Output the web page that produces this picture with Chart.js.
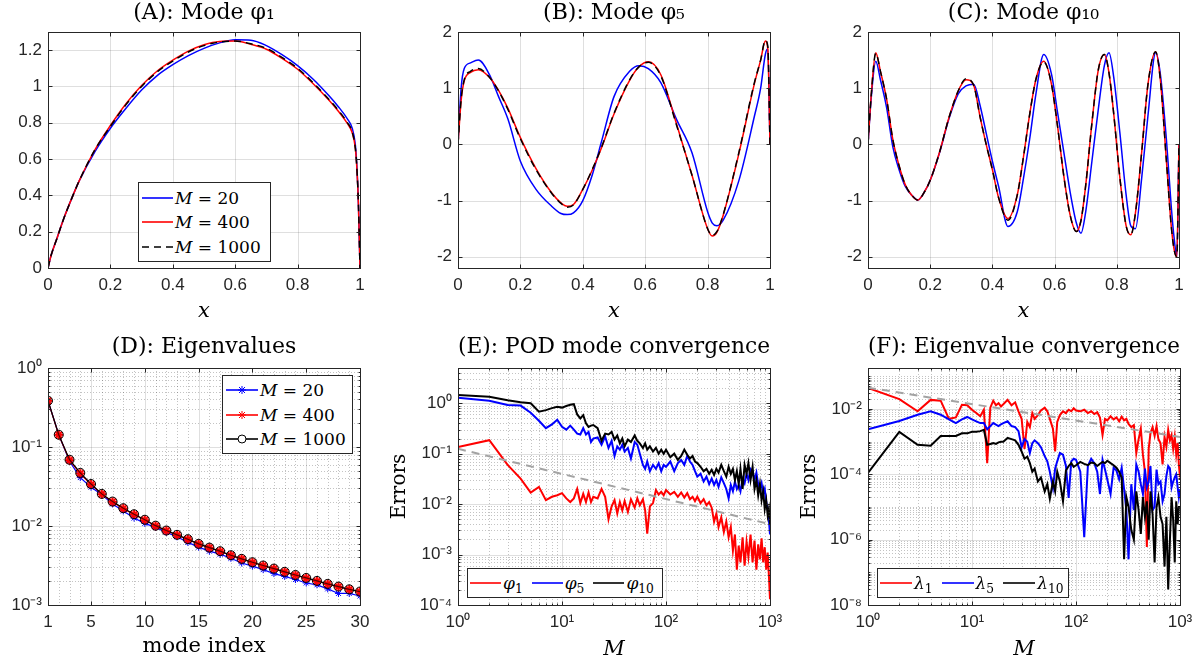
<!DOCTYPE html>
<html>
<head>
<meta charset="utf-8">
<title>POD modes and convergence</title>
<script src="https://cdn.jsdelivr.net/npm/chart.js@4.4.1/dist/chart.umd.min.js"></script>
<style>
  html, body { margin: 0; padding: 0; background: #fff; }
  #fig { position: relative; width: 1203px; height: 663px; overflow: hidden; }
  #fig canvas { position: absolute; }
  .legend { position: absolute; box-sizing: border-box; background: #fff; border: 1px solid #262626;
            font-family: 'DejaVu Serif', serif; font-size: 17px; color: #000; display: flex; }
  .legend.col { flex-direction: column; justify-content: space-evenly; padding-left: 3px; }
  .legend.row { flex-direction: row; align-items: center; padding-left: 2px; gap: 9px; }
  .legend .item { display: flex; align-items: center; white-space: nowrap; gap: 2px; }
  .legend svg { flex: none; }
  .legend sub { font-size: 0.72em; vertical-align: -0.3em; line-height: 0; }
</style>
</head>
<body>
<div id="fig">
  <canvas id="cA" width="390" height="330" style="left:0;top:0"></canvas>
  <canvas id="cB" width="410" height="330" style="left:380px;top:0"></canvas>
  <canvas id="cC" width="413" height="330" style="left:790px;top:0"></canvas>
  <canvas id="cD" width="390" height="333" style="left:0;top:330px"></canvas>
  <canvas id="cE" width="410" height="333" style="left:380px;top:330px"></canvas>
  <canvas id="cF" width="413" height="333" style="left:790px;top:330px"></canvas>
</div>
<script>
// ---- (A) mode phi_1 ----
var xA = [0, 0.01, 0.03, 0.05, 0.08, 0.1, 0.15, 0.2, 0.25, 0.3, 0.35, 0.4, 0.45, 0.5, 0.55, 0.6, 0.65, 0.7, 0.75, 0.8, 0.85, 0.9, 0.93, 0.96, 0.975, 0.985, 0.99, 0.995, 1.0];
var yA20 = [0, 0.07, 0.17, 0.27, 0.40, 0.48, 0.64, 0.77, 0.88, 0.98, 1.06, 1.12, 1.17, 1.21, 1.24, 1.257, 1.255, 1.225, 1.175, 1.115, 1.04, 0.95, 0.89, 0.82, 0.77, 0.68, 0.56, 0.35, 0];
var yA400 = [0, 0.07, 0.17, 0.27, 0.40, 0.48, 0.65, 0.785, 0.905, 1.005, 1.085, 1.145, 1.195, 1.23, 1.248, 1.25, 1.232, 1.205, 1.155, 1.095, 1.015, 0.925, 0.865, 0.795, 0.745, 0.66, 0.55, 0.35, 0];
var yA1000 = [0, 0.07, 0.17, 0.27, 0.40, 0.48, 0.65, 0.78, 0.90, 1.00, 1.08, 1.14, 1.19, 1.225, 1.245, 1.25, 1.235, 1.21, 1.16, 1.10, 1.02, 0.93, 0.87, 0.80, 0.75, 0.66, 0.55, 0.35, 0];

// ---- (B) mode phi_5 ----
var xB = [0, 0.01, 0.02, 0.04, 0.065, 0.1, 0.13, 0.16, 0.2, 0.25, 0.3, 0.33, 0.35, 0.37, 0.4, 0.43, 0.46, 0.5, 0.55, 0.58, 0.61, 0.65, 0.7, 0.75, 0.8, 0.815, 0.83, 0.85, 0.9, 0.95, 0.97, 0.985, 0.993, 1.0];
var yB20 = [0, 1.0, 1.35, 1.45, 1.5, 1.25, 0.85, 0.45, -0.3, -0.8, -1.1, -1.23, -1.25, -1.22, -1.0, -0.55, 0.05, 0.85, 1.3, 1.4, 1.35, 1.1, 0.45, -0.15, -1.2, -1.4, -1.45, -1.35, -0.65, 0.5, 1.0, 1.6, 1.7, 0];
var yB400 = [0, 0.78, 1.13, 1.28, 1.33, 1.2, 0.96, 0.64, 0.12, -0.43, -0.86, -1.04, -1.1, -1.07, -0.8, -0.46, -0.06, 0.54, 1.14, 1.38, 1.47, 1.24, 0.37, -0.55, -1.5, -1.63, -1.56, -1.26, -0.17, 1.08, 1.5, 1.84, 1.7, 0];
var yB1000 = [0, 0.8, 1.15, 1.3, 1.35, 1.2, 0.95, 0.62, 0.1, -0.45, -0.87, -1.05, -1.12, -1.08, -0.8, -0.45, -0.05, 0.55, 1.15, 1.38, 1.46, 1.22, 0.35, -0.55, -1.5, -1.62, -1.55, -1.25, -0.15, 1.1, 1.5, 1.85, 1.75, 0];

// ---- (C) mode phi_10 ----
var xC = [0, 0.01, 0.025, 0.04, 0.06, 0.08, 0.1, 0.12, 0.14, 0.16, 0.18, 0.2, 0.23, 0.26, 0.29, 0.315, 0.34, 0.36, 0.38, 0.4, 0.42, 0.45, 0.48, 0.5, 0.52, 0.54, 0.565, 0.59, 0.61, 0.63, 0.65, 0.67, 0.685, 0.7, 0.72, 0.74, 0.76, 0.775, 0.79, 0.81, 0.83, 0.845, 0.86, 0.88, 0.9, 0.925, 0.94, 0.96, 0.975, 0.985, 0.993, 1.0];
var yC20 = [0, 0.8, 1.48, 1.15, 0.65, -0.05, -0.45, -0.75, -0.9, -0.99, -0.86, -0.64, -0.15, 0.45, 0.9, 1.04, 1.07, 0.7, 0.2, -0.3, -0.75, -1.46, -1.2, -0.6, 0.1, 0.9, 1.6, 1.25, 0.55, -0.15, -0.85, -1.4, -1.58, -1.2, -0.3, 0.6, 1.4, 1.63, 1.2, 0.2, -0.9, -1.45, -1.5, -0.6, 0.5, 1.63, 1.25, 0.05, -1.1, -1.7, -2.0, 0];
var yC400 = [0, 0.85, 1.63, 1.3, 0.8, 0.08, -0.38, -0.72, -0.9, -0.99, -0.86, -0.64, -0.14, 0.47, 0.95, 1.15, 1.05, 0.5, 0, -0.45, -0.95, -1.32, -0.9, -0.22, 0.54, 1.16, 1.48, 1.07, 0.3, -0.58, -1.26, -1.55, -1.35, -0.73, 0.38, 1.31, 1.6, 1.27, 0.55, -0.6, -1.45, -1.61, -1.22, -0.14, 1.06, 1.65, 1.15, -0.33, -1.45, -1.89, -2.0, 0];
var yC1000 = [0, 0.85, 1.62, 1.3, 0.8, 0.08, -0.38, -0.72, -0.9, -0.99, -0.86, -0.64, -0.14, 0.47, 0.95, 1.17, 1.05, 0.5, 0, -0.45, -0.95, -1.35, -0.9, -0.22, 0.54, 1.16, 1.47, 1.07, 0.3, -0.58, -1.26, -1.55, -1.35, -0.73, 0.38, 1.31, 1.6, 1.27, 0.55, -0.6, -1.45, -1.61, -1.22, -0.14, 1.06, 1.65, 1.15, -0.33, -1.45, -1.89, -2.0, 0];

// ---- (D) eigenvalues ----
var modeIndex = [1, 2, 3, 4, 5, 6, 7, 8, 9, 10, 11, 12, 13, 14, 15, 16, 17, 18, 19, 20, 21, 22, 23, 24, 25, 26, 27, 28, 29, 30];
var eig20 = [0.385, 0.143, 0.066, 0.041, 0.031, 0.025, 0.019, 0.0155, 0.0126, 0.0108, 0.0096, 0.0083, 0.0073, 0.0062, 0.0054, 0.0048, 0.0044, 0.0039, 0.0034, 0.0031, 0.0028, 0.0025, 0.0023, 0.0021, 0.0019, 0.0018, 0.0016, 0.0014, 0.0014, 0.0013];
var eig400 = [0.384, 0.142, 0.068, 0.046, 0.0335, 0.0253, 0.0202, 0.0166, 0.014, 0.0119, 0.01, 0.0087, 0.00767, 0.00676, 0.0059, 0.0053, 0.00476, 0.00424, 0.00381, 0.00345, 0.00314, 0.00287, 0.00261, 0.00238, 0.00218, 0.002, 0.00184, 0.0017, 0.00157, 0.00147];
var eig1000 = [0.385, 0.143, 0.069, 0.047, 0.034, 0.0255, 0.0204, 0.0168, 0.0141, 0.012, 0.0101, 0.00877, 0.00773, 0.00681, 0.00594, 0.00533, 0.0048, 0.00427, 0.00384, 0.00348, 0.00316, 0.00289, 0.00263, 0.0024, 0.0022, 0.00202, 0.00185, 0.00171, 0.00158, 0.00148];

// ---- (E), (F) convergence in M ----
var mValues = [1, 2, 3, 4, 5, 6, 7, 8, 9, 10, 11, 12, 13, 14, 15, 16, 17, 18, 19, 20,
  22, 24, 26, 28, 30, 32, 34, 36, 38, 40, 43, 46, 50, 53, 56, 60, 63, 66, 70, 75,
  80, 85, 90, 95, 100, 110, 120, 130, 140, 150, 160, 170, 180, 190, 200,
  215, 230, 245, 260, 275, 290, 305, 320, 340, 360, 380, 400, 420, 440, 460,
  480, 500, 520, 545, 570, 595, 620, 650, 680, 710, 740, 770, 800, 830, 860,
  890, 920, 950, 975, 1000];
var errPhi1 = [0.135, 0.185, 0.06, 0.032, 0.017, 0.022, 0.012, 0.014, 0.015, 0.0165,
  0.013, 0.011, 0.013, 0.02, 0.0105, 0.016, 0.011, 0.017, 0.011, 0.014,
  0.013, 0.02, 0.014, 0.005, 0.009, 0.012, 0.0065, 0.011, 0.0075, 0.0115,
  0.007, 0.0125, 0.0085, 0.013, 0.0095, 0.0125, 0.0075, 0.0026, 0.009, 0.0105,
  0.019, 0.0155, 0.0175, 0.015, 0.019, 0.0155, 0.0175, 0.014, 0.017, 0.0135,
  0.0165, 0.0125, 0.014, 0.0115, 0.014, 0.0105, 0.0125, 0.0095, 0.011, 0.0085,
  0.0045, 0.0065, 0.0035, 0.0055, 0.0028, 0.0045, 0.0022, 0.0035, 0.0012, 0.0025,
  0.0005, 0.0015, 0.0007, 0.0022, 0.0006, 0.0018, 0.0009, 0.0025, 0.0007, 0.0019,
  0.0005, 0.0016, 0.0008, 0.0021, 0.0007, 0.0014, 0.0005, 0.0011, 0.0004, 0.00013];
var errPhi5 = [1.28, 1.12, 0.92, 0.9, 0.65, 0.45, 0.32, 0.38, 0.47, 0.34,
  0.3, 0.36, 0.3, 0.25, 0.24, 0.32, 0.24, 0.27, 0.17, 0.2,
  0.21, 0.15, 0.22, 0.13, 0.18, 0.09, 0.14, 0.12, 0.15, 0.11,
  0.13, 0.08, 0.17, 0.15, 0.1, 0.06, 0.05, 0.07, 0.045, 0.06,
  0.05, 0.065, 0.045, 0.06, 0.055, 0.07, 0.045, 0.065, 0.075, 0.06,
  0.09, 0.07, 0.06, 0.045, 0.035, 0.04, 0.028, 0.035, 0.025, 0.032,
  0.024, 0.03, 0.022, 0.034, 0.026, 0.02, 0.013, 0.024, 0.018, 0.028,
  0.02, 0.024, 0.018, 0.032, 0.026, 0.04, 0.03, 0.05, 0.045, 0.03,
  0.042, 0.025, 0.02, 0.026, 0.016, 0.02, 0.011, 0.008, 0.005, 0.0025];
var errPhi10 = [1.45, 1.35, 1.15, 1.05, 1.0, 0.68, 0.73, 0.8, 0.85, 0.82,
  0.88, 0.93, 0.96, 0.6, 0.5, 0.58, 0.4, 0.34, 0.36, 0.37,
  0.32, 0.18, 0.25, 0.24, 0.27, 0.19, 0.23, 0.16, 0.2, 0.14,
  0.19, 0.17, 0.23, 0.18, 0.16, 0.13, 0.16, 0.12, 0.14, 0.11,
  0.13, 0.1, 0.12, 0.1, 0.12, 0.085, 0.1, 0.075, 0.09, 0.12,
  0.095, 0.08, 0.09, 0.07, 0.065, 0.055, 0.045, 0.05, 0.04, 0.048,
  0.038, 0.05, 0.042, 0.06, 0.045, 0.035, 0.055, 0.04, 0.05, 0.03,
  0.045, 0.025, 0.05, 0.02, 0.06, 0.04, 0.065, 0.03, 0.055, 0.02,
  0.03, 0.015, 0.025, 0.012, 0.018, 0.008, 0.012, 0.006, 0.008, 0.004];
var errLam1 = [0.044, 0.02, 0.0085, 0.019, 0.018, 0.005, 0.0055, 0.0135, 0.013, 0.0095,
  0.0075, 0.006, 0.0095, 0.00022, 0.011, 0.018, 0.013, 0.015, 0.012, 0.014,
  0.019, 0.013, 0.016, 0.0085, 0.005, 0.0006, 0.004, 0.0028, 0.0075, 0.005,
  0.0065, 0.009, 0.011, 0.0085, 0.005, 0.0025, 0.0005, 0.004, 0.0065, 0.0085,
  0.0075, 0.0095, 0.0085, 0.0105, 0.009, 0.0085, 0.0095, 0.0075, 0.0085, 0.007,
  0.008, 0.0055, 0.0016, 0.005, 0.0045, 0.006, 0.0048, 0.0055, 0.0042, 0.0058,
  0.0045, 0.005, 0.0035, 0.0028, 0.0032, 0.00045, 0.0012, 0.0025, 0.0004, 0.00012,
  6e-7, 0.0006, 0.0018, 0.0028, 0.0015, 0.003, 0.0012, 0.0009, 0.0002, 0.0014,
  0.0007, 0.0023, 0.0011, 0.0016, 0.0006, 0.0014, 0.0004, 0.0009, 0.0002, 0.00008];
var errLam5 = [0.0024, 0.0043, 0.0067, 0.0085, 0.0067, 0.0048, 0.0037, 0.0048, 0.0057, 0.0048,
  0.0042, 0.0037, 0.0037, 0.0024, 0.003, 0.0037, 0.0033, 0.003, 0.0034, 0.0037,
  0.0042, 0.003, 0.0028, 0.0021, 0.00068, 0.0012, 0.001, 0.00045, 0.0009, 0.0011,
  0.0009, 0.00068, 0.00036, 0.00025, 0.00012, 3.8e-5, 0.00015, 0.00025, 0.00045, 0.0004,
  0.00018, 1.9e-5, 0.00025, 0.0003, 0.00028, 0.00012, 1.2e-6, 0.00018, 0.0003, 0.00022,
  0.00012, 2.5e-5, 0.00028, 0.00014, 7e-5, 2.5e-5, 0.00016, 0.00013, 7e-5, 0.00016,
  3.5e-5, 8e-6, 2.5e-7, 5e-5, 8e-6, 0.0002, 0.00012, 5e-5, 2.5e-5, 0.00015,
  4e-5, 6e-5, 0.00018, 8e-6, 1e-5, 0.00014, 5e-5, 6e-5, 1.5e-5, 2.5e-5,
  9e-5, 0.00018, 0.00015, 4e-5, 6e-5, 8e-5, 0.0001, 4e-5, 2e-5, 3.5e-5];
var errLam10 = [1.1e-4, 0.002, 0.0008, 0.00075, 0.0015, 0.0015, 0.0015, 0.0018, 0.0018, 0.002,
  0.002, 0.0021, 0.0023, 0.0008, 0.00085, 0.0009, 0.00085, 0.00095, 0.001, 0.001,
  0.0013, 0.0012, 0.0011, 0.0008, 0.0005, 0.0003, 0.00035, 0.00022, 0.00012, 0.00015,
  6e-5, 8e-5, 3e-5, 5e-5, 1.8e-5, 6e-5, 3e-5, 0.00012, 6e-5, 1.5e-5,
  0.00013, 0.00018, 0.00022, 0.00017, 0.00019, 0.00024, 0.00021, 0.00019, 0.00023, 0.00022,
  0.00018, 0.00021, 0.00024, 0.00022, 0.00026, 0.00022, 0.00019, 0.00016, 0.00012, 8e-5,
  2.5e-7, 2e-5, 1e-5, 2e-6, 1e-6, 3e-5, 8e-6, 1.5e-6, 2e-5, 5e-6,
  1.5e-5, 1e-6, 3e-5, 6e-6, 2e-7, 1e-5, 2e-5, 5e-6, 3e-6, 1.5e-7,
  5e-6, 3e-8, 1e-6, 2e-5, 4e-6, 2e-7, 1.5e-5, 3e-6, 1e-5, 1e-5];
// reference slopes (dashed grey), end points only
var refM = [1, 1000];
var refModes = [0.125, 0.004];
var refEigs = [0.045, 0.0014];

// tick labels
var ticksUnit = [0, 0.2, 0.4, 0.6, 0.8, 1];
var ticksA = [0, 0.2, 0.4, 0.6, 0.8, 1, 1.2];
var ticksMode = [-2, -1, 0, 1, 2];
var ticksIndex = [1, 5, 10, 15, 20, 25, 30];
var ticksEig = [1e-3, 1e-2, 1e-1, 1];
var ticksM = [1, 10, 100, 1000];
var ticksErrE = [1e-4, 1e-3, 1e-2, 1e-1, 1];
var ticksErrF = [1e-8, 1e-6, 1e-4, 1e-2];

var SERIF = "'DejaVu Serif', serif";
var SANS = "'Liberation Sans', Arial, sans-serif";
var INK = '#262626';
var BLUE = '#0000ff', RED = '#ff0000', BLACK = '#000000', GREY = '#a3a3a3';

var SUP = {'0': '\u2070', '1': '\u00b9', '2': '\u00b2', '3': '\u00b3', '4': '\u2074', '5': '\u2075',
  '6': '\u2076', '7': '\u2077', '8': '\u2078', '9': '\u2079', '-': '\u207b'};
function powLabel(v) {
  var e = String(Math.round(Math.log10(v)));
  return '10' + e.split('').map(function (c) { return SUP[c]; }).join('');
}
function plainLabel(v) { return String(Math.round(v * 10) / 10); }

// grid, box and inward ticks like MATLAB axes
function minorValues(s, mode) {
  var out = [];
  var major = s.ticks.map(function (t) { return t.value; });
  var isMajor = function (v) { return major.some(function (m) { return Math.abs(m - v) <= Math.abs(v) * 1e-6; }); };
  if (mode === 'log') {
    var lo = Math.floor(Math.log10(s.min)), hi = Math.ceil(Math.log10(s.max));
    for (var e = lo; e <= hi; e++) {
      for (var k = 1; k < 10; k++) {
        var v = k * Math.pow(10, e);
        if (v > s.min * 1.0001 && v < s.max * 0.9999 && !isMajor(v)) out.push(v);
      }
    }
  } else if (mode === 'int') {
    for (var i = Math.ceil(s.min); i <= s.max; i++) if (!isMajor(i)) out.push(i);
  }
  return out;
}
function vline(ctx, px, a, y0, y1) {
  var x = Math.round(px) + 0.5;
  ctx.beginPath(); ctx.moveTo(x, y0); ctx.lineTo(x, y1); ctx.stroke();
}
function hline(ctx, py, a, x0, x1) {
  var y = Math.round(py) + 0.5;
  ctx.beginPath(); ctx.moveTo(x0, y); ctx.lineTo(x1, y); ctx.stroke();
}

var matlabAxes = {
  id: 'matlabAxes',
  beforeDatasetsDraw: function (chart, args, o) {
    var ctx = chart.ctx, a = chart.chartArea, xs = chart.scales.x, ys = chart.scales.y;
    ctx.save();
    ctx.lineWidth = 1;
    ctx.setLineDash([1, 2]);
    ctx.strokeStyle = 'rgba(38,38,38,0.28)';
    minorValues(xs, o.xMinor).forEach(function (v) { vline(ctx, xs.getPixelForValue(v), a, a.top, a.bottom); });
    minorValues(ys, o.yMinor).forEach(function (v) { hline(ctx, ys.getPixelForValue(v), a, a.left, a.right); });
    ctx.setLineDash([]);
    ctx.strokeStyle = 'rgba(38,38,38,0.15)';
    xs.ticks.forEach(function (t) { vline(ctx, xs.getPixelForValue(t.value), a, a.top, a.bottom); });
    ys.ticks.forEach(function (t) { hline(ctx, ys.getPixelForValue(t.value), a, a.left, a.right); });
    ctx.restore();
  },
  afterDatasetsDraw: function (chart, args, o) {
    var ctx = chart.ctx, a = chart.chartArea, xs = chart.scales.x, ys = chart.scales.y;
    ctx.save();
    ctx.lineWidth = 1;
    ctx.strokeStyle = INK;
    var L = Math.round(a.left) + 0.5, R = Math.round(a.right) + 0.5;
    var T = Math.round(a.top) + 0.5, B = Math.round(a.bottom) + 0.5;
    ctx.strokeRect(L, T, R - L, B - T);
    function xt(v, len) { var p = xs.getPixelForValue(v); vline(ctx, p, a, B, B - len); vline(ctx, p, a, T, T + len); }
    function yt(v, len) { var p = ys.getPixelForValue(v); hline(ctx, p, a, L, L + len); hline(ctx, p, a, R, R - len); }
    xs.ticks.forEach(function (t) { xt(t.value, 4); });
    ys.ticks.forEach(function (t) { yt(t.value, 4); });
    if (o.xMinor === 'log') minorValues(xs, 'log').forEach(function (v) { xt(v, 2); });
    if (o.yMinor === 'log') minorValues(ys, 'log').forEach(function (v) { yt(v, 2); });
    ctx.restore();
  }
};
Chart.register(matlabAxes);

function axis(o) {
  return {
    type: o.type, min: o.min, max: o.max, bounds: 'data', position: o.pos,
    grid: {display: false, drawTicks: false},
    border: {display: false},
    afterBuildTicks: function (s) { s.ticks = o.ticks.map(function (v) { return {value: v}; }); },
    afterFit: function (s) { if (o.pos === 'bottom') s.height = o.size; else s.width = o.size; },
    ticks: {autoSkip: false, maxRotation: 0, minRotation: 0, padding: o.pos === 'bottom' ? 7 : 6,
      color: INK, font: {family: SANS, size: 17}, callback: o.fmt},
    title: o.title ? {display: true, text: o.title, color: '#000',
      font: {family: SERIF, size: o.titleSize || 21, style: o.italic ? 'italic' : 'normal', weight: 'normal'},
      padding: o.titlePad} : {display: false}
  };
}

function series(label, xs, ys, color, extra) {
  var d = {
    label: label,
    data: xs.map(function (x, i) { return {x: x, y: ys[i]}; }),
    borderColor: color, backgroundColor: color, borderWidth: 1.5,
    pointRadius: 0, tension: 0, fill: false
  };
  for (var k in extra) d[k] = extra[k];
  return d;
}

function makeChart(id, c) {
  return new Chart(document.getElementById(id), {
    type: 'line',
    data: {datasets: c.datasets},
    options: {
      responsive: false, animation: false, devicePixelRatio: 1, events: [],
      layout: {padding: {left: 0, top: 0, right: c.padRight, bottom: 0}},
      plugins: {
        legend: {display: false}, tooltip: {enabled: false},
        title: {display: true, text: c.title, fullSize: false, color: '#000',
          font: {family: SERIF, size: 22, weight: 'normal'}, padding: c.titlePad},
        matlabAxes: {xMinor: c.xMinor, yMinor: c.yMinor}
      },
      scales: {x: c.x, y: c.y}
    }
  });
}

var TOP_PAD = {top: 0, bottom: 5.6};
var BOT_PAD = {top: 3.8, bottom: 7.8};
var smooth = {cubicInterpolationMode: 'monotone'};

function modeSets(xs, y20, y400, y1000) {
  return [
    series('M = 20', xs, y20, BLUE, Object.assign({order: 3}, smooth)),
    series('M = 400', xs, y400, RED, Object.assign({order: 2}, smooth)),
    series('M = 1000', xs, y1000, BLACK, Object.assign({order: 1, borderDash: [7, 5]}, smooth))
  ];
}

makeChart('cA', {
  title: '(A): Mode \u03c6\u2081', titlePad: TOP_PAD, padRight: 30,
  datasets: modeSets(xA, yA20, yA400, yA1000),
  x: axis({type: 'linear', pos: 'bottom', min: 0, max: 1, ticks: ticksUnit, fmt: plainLabel, size: 62,
    title: 'x', italic: true, titlePad: {top: 0, bottom: 5.7}}),
  y: axis({type: 'linear', pos: 'left', min: 0, max: 1.3, ticks: ticksA, fmt: plainLabel, size: 48})
});

makeChart('cB', {
  title: '(B): Mode \u03c6\u2085', titlePad: TOP_PAD, padRight: 20,
  datasets: modeSets(xB, yB20, yB400, yB1000),
  x: axis({type: 'linear', pos: 'bottom', min: 0, max: 1, ticks: ticksUnit, fmt: plainLabel, size: 62,
    title: 'x', italic: true, titlePad: {top: 0, bottom: 5.7}}),
  y: axis({type: 'linear', pos: 'left', min: -2.2, max: 2, ticks: ticksMode, fmt: plainLabel, size: 78})
});

makeChart('cC', {
  title: '(C): Mode \u03c6\u2081\u2080', titlePad: TOP_PAD, padRight: 24,
  datasets: modeSets(xC, yC20, yC400, yC1000),
  x: axis({type: 'linear', pos: 'bottom', min: 0, max: 1, ticks: ticksUnit, fmt: plainLabel, size: 62,
    title: 'x', italic: true, titlePad: {top: 0, bottom: 5.7}}),
  y: axis({type: 'linear', pos: 'left', min: -2.2, max: 2, ticks: ticksMode, fmt: plainLabel, size: 78})
});

makeChart('cD', {
  title: '(D): Eigenvalues', titlePad: BOT_PAD, padRight: 30, xMinor: 'int', yMinor: 'log',
  datasets: [
    series('M = 20', modeIndex, eig20, BLUE, {order: 3, borderWidth: 1.2, pointStyle: 'star', pointRadius: 3.5, pointBorderWidth: 1}),
    series('M = 400', modeIndex, eig400, RED, {order: 2, borderWidth: 1.2, pointStyle: 'star', pointRadius: 4.5, pointBorderWidth: 1.8}),
    series('M = 1000', modeIndex, eig1000, BLACK, {order: 1, borderWidth: 1.2, pointStyle: 'circle', pointRadius: 4.5,
      pointBorderWidth: 1, pointBackgroundColor: 'rgba(255,0,0,0.35)'})
  ],
  x: axis({type: 'linear', pos: 'bottom', min: 1, max: 30, ticks: ticksIndex, fmt: plainLabel, size: 58,
    title: 'mode index', titlePad: {top: 0, bottom: 3.7}}),
  y: axis({type: 'logarithmic', pos: 'left', min: 1e-3, max: 1, ticks: ticksEig, fmt: powLabel, size: 48})
});

makeChart('cE', {
  title: '(E): POD mode convergence', titlePad: BOT_PAD, padRight: 20, xMinor: 'log', yMinor: 'log',
  datasets: [
    series('ref', refM, refModes, GREY, {order: 0, borderWidth: 2, borderDash: [8, 6]}),
    series('\u03c6\u2081', mValues, errPhi1, RED, {order: 3, borderWidth: 2}),
    series('\u03c6\u2085', mValues, errPhi5, BLUE, {order: 2, borderWidth: 2}),
    series('\u03c6\u2081\u2080', mValues, errPhi10, BLACK, {order: 1, borderWidth: 2})
  ],
  x: axis({type: 'logarithmic', pos: 'bottom', min: 1, max: 1000, ticks: ticksM, fmt: powLabel, size: 58,
    title: 'M', italic: true, titlePad: {top: 0, bottom: 1}}),
  y: axis({type: 'logarithmic', pos: 'left', min: 1e-4, max: 5, ticks: ticksErrE, fmt: powLabel, size: 78,
    title: 'Errors', titleSize: 20, titlePad: {top: 8, bottom: 0}})
});

makeChart('cF', {
  title: '(F): Eigenvalue convergence', titlePad: BOT_PAD, padRight: 23, xMinor: 'log', yMinor: 'log',
  datasets: [
    series('ref', refM, refEigs, GREY, {order: 0, borderWidth: 2, borderDash: [8, 6]}),
    series('\u03bb\u2081', mValues, errLam1, RED, {order: 3, borderWidth: 2}),
    series('\u03bb\u2085', mValues, errLam5, BLUE, {order: 2, borderWidth: 2}),
    series('\u03bb\u2081\u2080', mValues, errLam10, BLACK, {order: 1, borderWidth: 2})
  ],
  x: axis({type: 'logarithmic', pos: 'bottom', min: 1, max: 1000, ticks: ticksM, fmt: powLabel, size: 58,
    title: 'M', italic: true, titlePad: {top: 0, bottom: 1}}),
  y: axis({type: 'logarithmic', pos: 'left', min: 1e-8, max: 0.18, ticks: ticksErrF, fmt: powLabel, size: 78,
    title: 'Errors', titleSize: 20, titlePad: {top: 8, bottom: 0}})
});

// legends drawn as HTML boxes inside the axes
function sample(w, color, dash, marker) {
  var s = '<svg width="' + w + '" height="14" viewBox="0 0 ' + w + ' 14">' +
    '<line x1="0" y1="7" x2="' + w + '" y2="7" stroke="' + color + '" stroke-width="1.6"' +
    (dash ? ' stroke-dasharray="' + dash + '"' : '') + '/>';
  var c = w / 2;
  if (marker === 'star') {
    s += '<g stroke="' + color + '" stroke-width="1">' +
      '<line x1="' + (c - 4) + '" y1="7" x2="' + (c + 4) + '" y2="7"/>' +
      '<line x1="' + c + '" y1="3" x2="' + c + '" y2="11"/>' +
      '<line x1="' + (c - 3) + '" y1="4" x2="' + (c + 3) + '" y2="10"/>' +
      '<line x1="' + (c - 3) + '" y1="10" x2="' + (c + 3) + '" y2="4"/></g>';
  } else if (marker === 'circle') {
    s += '<circle cx="' + c + '" cy="7" r="4" fill="#fff" stroke="' + color + '" stroke-width="1"/>';
  }
  return s + '</svg>';
}
function addLegend(cls, x, y, w, h, items) {
  var box = document.createElement('div');
  box.className = 'legend ' + cls;
  box.style.left = x + 'px'; box.style.top = y + 'px';
  box.style.width = w + 'px'; box.style.height = h + 'px';
  items.forEach(function (it) {
    var row = document.createElement('div');
    row.className = 'item';
    row.innerHTML = sample(it.w, it.color, it.dash, it.marker) + '<span>' + it.label + '</span>';
    box.appendChild(row);
  });
  document.getElementById('fig').appendChild(box);
}

addLegend('col', 138, 182, 133, 80, [
  {w: 31, color: BLUE, label: '<i>M</i> = 20'},
  {w: 31, color: RED, label: '<i>M</i> = 400'},
  {w: 31, color: BLACK, dash: '7 5', label: '<i>M</i> = 1000'}
]);
addLegend('col', 222, 375, 131, 79, [
  {w: 32, color: BLUE, marker: 'star', label: '<i>M</i> = 20'},
  {w: 32, color: RED, marker: 'star', label: '<i>M</i> = 400'},
  {w: 32, color: BLACK, marker: 'circle', label: '<i>M</i> = 1000'}
]);
addLegend('row', 467, 568, 196, 30, [
  {w: 31, color: RED, label: '<i>\u03c6</i><sub>1</sub>'},
  {w: 31, color: BLUE, label: '<i>\u03c6</i><sub>5</sub>'},
  {w: 31, color: BLACK, label: '<i>\u03c6</i><sub>10</sub>'}
]);
addLegend('row', 877, 568, 192, 30, [
  {w: 32, color: RED, label: '<i>\u03bb</i><sub>1</sub>'},
  {w: 32, color: BLUE, label: '<i>\u03bb</i><sub>5</sub>'},
  {w: 32, color: BLACK, label: '<i>\u03bb</i><sub>10</sub>'}
]);
</script>
</body>
</html>
